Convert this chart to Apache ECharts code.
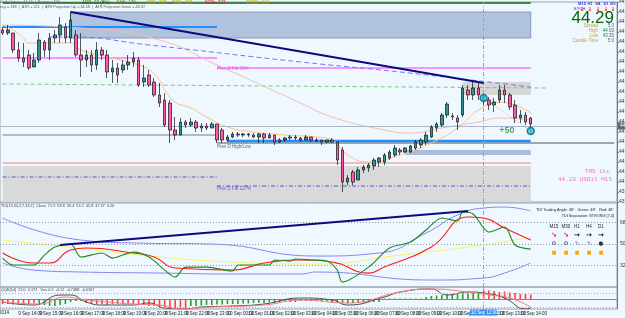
<!DOCTYPE html>
<html><head><meta charset="utf-8">
<script src="https://cdn.jsdelivr.net/npm/echarts@6/dist/echarts.min.js"></script>
<style>html,body{margin:0;padding:0;background:#f0f8ff}#c{width:625px;height:318px}</style>
</head><body><div id="c"></div><script>
// ---------- DATA ----------
// M15 candles: [open, close, low, high]
const candles = [
[44.76,44.745,44.735,44.775],[44.745,44.76,44.735,44.785],[44.745,44.66,44.645,44.745],[44.66,44.62,44.60,44.70],
[44.62,44.60,44.575,44.695],[44.635,44.57,44.56,44.66],[44.575,44.61,44.575,44.645],[44.61,44.71,44.595,44.745],
[44.70,44.66,44.625,44.71],[44.66,44.72,44.61,44.745],[44.72,44.735,44.695,44.76],[44.735,44.785,44.695,44.825],
[44.775,44.72,44.695,44.795],[44.72,44.81,44.695,44.85],[44.735,44.635,44.625,44.76],[44.635,44.61,44.525,44.745],
[44.61,44.635,44.575,44.66],[44.635,44.585,44.55,44.66],[44.585,44.66,44.56,44.70],[44.66,44.635,44.61,44.675],
[44.635,44.55,44.52,44.66],[44.55,44.57,44.495,44.61],[44.57,44.535,44.495,44.595],[44.56,44.585,44.545,44.61],
[44.585,44.60,44.56,44.635],[44.60,44.62,44.575,44.65],[44.61,44.485,44.475,44.625],[44.50,44.52,44.475,44.585],
[44.535,44.485,44.475,44.56],[44.50,44.435,44.425,44.52],[44.435,44.395,44.375,44.495],[44.41,44.285,44.275,44.445],
[44.395,44.26,44.195,44.41],[44.26,44.235,44.21,44.325],[44.235,44.30,44.235,44.32],[44.30,44.285,44.27,44.31],
[44.285,44.30,44.275,44.32],[44.30,44.27,44.25,44.31],[44.27,44.28,44.25,44.295],[44.28,44.27,44.26,44.295],
[44.27,44.29,44.27,44.30],[44.29,44.21,44.195,44.29],[44.26,44.21,44.195,44.27],[44.21,44.225,44.20,44.235],
[44.225,44.24,44.22,44.25],[44.24,44.235,44.225,44.25],[44.235,44.24,44.225,44.245],[44.24,44.235,44.225,44.245],
[44.235,44.225,44.22,44.245],[44.225,44.24,44.195,44.245],[44.24,44.22,44.195,44.245],[44.22,44.235,44.22,44.245],
[44.235,44.20,44.185,44.235],[44.20,44.21,44.195,44.22],[44.21,44.22,44.20,44.225],[44.22,44.225,44.21,44.235],
[44.225,44.22,44.21,44.235],[44.22,44.21,44.20,44.225],[44.21,44.225,44.21,44.235],[44.225,44.21,44.20,44.225],
[44.21,44.205,44.20,44.22],[44.21,44.20,44.185,44.21],[44.20,44.21,44.195,44.21],[44.21,44.20,44.195,44.22],
[44.20,44.11,44.085,44.20],[44.16,44.00,43.95,44.175],[44.00,44.02,43.985,44.035],[44.05,44.00,43.985,44.06],
[44.01,44.06,44.01,44.075],[44.06,44.075,44.045,44.085],[44.07,44.085,44.05,44.095],[44.08,44.11,44.06,44.12],
[44.10,44.12,44.075,44.125],[44.10,44.135,44.085,44.145],[44.12,44.15,44.11,44.16],[44.135,44.17,44.125,44.185],
[44.16,44.15,44.135,44.17],[44.15,44.17,44.145,44.175],[44.15,44.18,44.145,44.185],[44.17,44.20,44.16,44.21],
[44.185,44.21,44.17,44.22],[44.20,44.235,44.185,44.25],[44.225,44.275,44.22,44.285],[44.27,44.29,44.25,44.30],
[44.285,44.335,44.275,44.345],[44.335,44.39,44.32,44.40],[44.33,44.325,44.31,44.345],[44.32,44.30,44.26,44.335],
[44.335,44.47,44.325,44.485],[44.46,44.435,44.41,44.485],[44.435,44.47,44.41,44.50],[44.47,44.435,44.41,44.495],
[44.43,44.41,44.385,44.435],[44.41,44.385,44.36,44.425],[44.385,44.40,44.35,44.42],[44.41,44.46,44.395,44.485],
[44.46,44.435,44.395,44.485],[44.435,44.375,44.36,44.445],[44.385,44.32,44.295,44.41],[44.32,44.335,44.295,44.36],
[44.335,44.30,44.285,44.35],[44.32,44.29,44.245,44.325]
];
const emptyBars = 16;                 // right shift of the chart
const startMinutes = 13*60+15;        // first bar: 9 Sep 13:15, M15 bars
const lastLabelIndex = 99;            // 10 Sep 14:00

// main pane overlays [barIndex, price]
const orangeMA = [[0,44.785],[2,44.76],[4,44.72],[5,44.695],[9,44.695],[13,44.695],[15,44.66],[21,44.62],[24,44.60],[26,44.585],[28,44.56],[30,44.51],[31,44.46],[33,44.40],[36,44.37],[39,44.325],[43,44.275],[48,44.25],[54,44.235],[60,44.225],[63,44.21],[66,44.135],[70,44.10],[76,44.135],[82,44.195],[87,44.27],[91,44.36],[95,44.40],[101,44.345]];
const pinkMA = [[0,44.785],[15,44.77],[30,44.71],[41,44.585],[57,44.395],[63,44.325],[73,44.26],[78,44.245],[84,44.27],[91,44.30],[95,44.32],[101,44.31]];
const dashedBlueMA = [[9,44.725],[13,44.725],[28,44.685],[57,44.60],[76,44.55],[101,44.475]];
const mainTrend = [[13,44.85],[92,44.495]];
const dottedTarget = [[92,44.42],[101,44.255]];
const cyanMarks = [[92,44.42],[101,44.255]];
const levelTopGreen = [[0,44.895],[101,44.895]];
const levelBlueUpper = [[0,44.775],[41,44.775]];
const levelMagentaA = [[0,44.62],[41,44.62]];
const levelMagentaB = [[41,44.57],[101,44.57]];
const levelGreenDash = [[0,44.49],[104,44.47]];
const levelGreyA = [[0,44.235],[41,44.235]];
const levelGreyB = [[41,44.195],[117,44.195]];
const levelBlueLower = [[43,44.205],[101,44.205]];
const levelCoral = [[0,44.095],[101,44.095]];
const levelFibA = [[0,44.025],[41,44.025]];
const levelFibB = [[41,43.98],[101,43.98]];
const bidPrice = 44.28;
const zoneBlueTop = [[13,44.85],[101,44.72]];
const zoneBlueLow = [[77,44.16],[101,44.135]];
const zoneGreyLow = [[0,44.08],[101,43.90]];
const zoneGreyTop = [[88,44.50],[101,44.435]];
const levelTexts = [[41,44.565,'Prev D Fib 50%'],[41,44.178,'Prev D High/Low'],[41,43.966,'Prev D Fib 127%'],[95,44.255,'+50']];
const crossIndex = 92;

// TDI pane [barIndex, value]
const tdiGreen = [[0,38.3],[2,32.5],[6,32.5],[8,40.8],[10,47.5],[13,50],[15,39.2],[19,42.5],[21,38.3],[25,43.3],[28,39.2],[31,28.3],[33,22.5],[35,30.8],[39,30.8],[44,27.5],[45,32.5],[51,32.5],[52,36.7],[55,35.8],[56,37.5],[59,36.7],[62,35.8],[64,28.3],[65,18.3],[70,30.8],[74,46.7],[78,51.7],[81,61.7],[84,71.7],[87,69.2],[88,76.7],[90,75],[92,63.3],[93,60],[96,64.2],[98,49.2],[101,45.8]];
const tdiRed = [[0,42.5],[6,34.2],[9,34.2],[13,45],[16,46.7],[25,42.5],[29,39.2],[33,30],[44,28.3],[50,34.2],[57,36.7],[63,35],[70,25.8],[73,30.8],[82,47.5],[89,72.5],[92,71.7],[96,63.3],[101,53.3]];
const tdiYellow = [[0,53.3],[14,46.7],[30,39.2],[44,35],[60,33.3],[76,40.8],[92,49.2],[101,55.8]];
const tdiUpper = [[0,71.7],[15,53.3],[26,50.8],[40,50],[60,40],[72,42.5],[81,59.2],[87,74.2],[92,80],[96,80.8],[101,77.5]];
const tdiLower = [[0,34.2],[6,28.3],[15,26.7],[31,25.8],[44,25],[57,25],[60,26.7],[82,20],[92,21.7],[96,25.8],[101,34.2]];
const tdiTrend = [[11,49.2],[89,77.5]];
const tdiLevels = [32,50,68];

// lower histogram pane
const histValues = [-0.5,-0.5,-0.55,-0.55,-0.5,-0.5,-0.45,-0.6,-0.6,-0.7,-0.7,-0.6,-0.5,-0.3,-0.2,-0.2,
 -0.4,-0.5,-0.5,-0.5,-0.6,-0.5,-0.5,-0.5,-0.4,-0.5,-0.6,-0.6,-0.7,-0.7,-0.8,-0.8,-0.9,-1.0,-1.1,-1.2,
 -0.7,-0.7,-0.65,-0.6,-0.6,-0.55,-0.55,-0.5,-0.5,-0.5,-0.45,-0.45,-0.4,-0.4,-0.4,-0.35,-0.35,-0.3,-0.3,-0.3,-0.3,
 -0.2,-0.2,-0.2,-0.2,-0.2,-0.2,-0.4,-0.4,-0.45,-0.45,-0.4,-0.4,-0.35,-0.3,-0.3,-0.3,
 0.05,0.05,0.05,0.05,0.05,0.05,0.05,0.05,0.2,0.3,0.35,0.4,0.45,0.5,0.55,0.6,0.6,0.6,0.6,
 0.9,0.85,0.8,0.7,0.75,0.65,0.6,0.5,0.5,0.45];
const histRising = [0,0,0,0,0,0,0,1,1,1,1,1,1,1,1,1,0,0,0,0,0,0,0,0,0,0,0,0,0,0,0,0,0,0,0,0,
 1,1,1,1,1,1,1,1,1,1,1,1,1,1,1,1,1,1,1,1,1,1,1,1,1,1,1,1,1,1,1,1,1,1,1,1,1,
 1,1,1,1,1,1,1,1,1,1,1,1,1,1,1,1,1,1,1,0,0,0,0,0,0,0,0,0,0];
const histGrey = [[0,-0.3],[6,-0.6],[11,0.4],[13,0.4],[16,-0.3],[19,-0.6],[25,-0.6],[28,-0.4],[31,-0.9],[35,-1.0],[38,-0.8],[44,-0.7],[50,-0.5],[57,0.1],[63,-0.1],[66,-0.6],[73,0.2],[76,0.7],[82,1.0],[85,0.4],[89,0.7],[92,0.6],[96,0.1],[100,-1.0],[101,-0.9]];
const histPink = [[0,-0.3],[7,-0.5],[12,0.2],[16,-0.1],[25,-0.5],[30,-0.6],[34,-1.0],[40,-0.8],[50,-0.6],[57,-0.1],[66,-0.4],[76,0.7],[82,1.0],[89,0.7],[93,0.4],[97,0.1],[101,-0.8]];
const histLevels = [0.6,-0.8];

// ---------- BUILD ----------
const months = 'Sep';
const categories = [];
for (let i = 0; i < candles.length + emptyBars; i++) {
  const m = startMinutes + 15*i, day = m >= 1440 ? 10 : 9, mm = m % 1440;
  categories.push(day + ' ' + months + ' ' + String(Math.floor(mm/60)).padStart(2,'0') + ':' + String(mm%60).padStart(2,'0'));
}
const F = 'Liberation Sans';
function ln(data, color, width, type, g, z, extra) {
  return Object.assign({type:'line', xAxisIndex:g, yAxisIndex:g, data:data, symbol:'none', silent:true,
    z: z||4, lineStyle:{color:color, width:width, type:type||'solid'}}, extra||{});
}
function area(a, color, border) {
  return [{xAxis:a[0][0], yAxis:a[0][1], itemStyle:{color:color, borderColor:border||'transparent', borderWidth:border?1:0}}, {xAxis:a[1][0], yAxis:a[1][1]}];
}
const cross = (g) => ({type:'line', xAxisIndex:g, yAxisIndex:g, data:[], silent:true,
  markLine:{symbol:'none', silent:true, label:{show:false}, lineStyle:{color:'#7aa7d8', type:[4,2,1,2], width:1}, data:[{xAxis:crossIndex}]}});

const series = [
  {type:'line', xAxisIndex:0, yAxisIndex:0, data:[], silent:true, z:1,
   markArea:{silent:true, data:[area(zoneBlueTop,'#b0c2dc','#8799bb'), area(zoneBlueLow,'#a9bddb'), area(zoneGreyLow,'#d9d9d9'), area(zoneGreyTop,'#d6d6d6')]},
   markLine:{symbol:'none', silent:true, lineStyle:{color:'#a8b8c8', width:1, type:'solid'},
     label:{position:'end', formatter:bidPrice.toFixed(2), fontSize:5, color:'#fff', backgroundColor:'#666', padding:[1,2], distance:1},
     data:[{yAxis:bidPrice}]}},
  ln(levelTopGreen,'#0a6a0a',1.5,'solid',0,2),
  ln(levelBlueUpper,'#1e90ff',2,'solid',0,2),
  ln(levelMagentaA,'#ff33ff',1.2,'solid',0,2),
  ln(levelMagentaB,'#ff33ff',1.2,'solid',0,2),
  ln(levelGreenDash,'#77cc77',1,[4,3],0,2),
  ln(levelGreyA,'#7a7a7a',1,'solid',0,2),
  ln(levelGreyB,'#555',1,'solid',0,2),
  ln(levelBlueLower,'#1e90ff',2.5,'solid',0,2),
  ln(levelCoral,'#f08080',1,'solid',0,2),
  ln(levelFibA,'#5555dd',1,[4,2,1,2],0,2),
  ln(levelFibB,'#5555dd',1,[4,2,1,2],0,2),
  ln(pinkMA,'#f2bcbc',1,'solid',0,2,{smooth:true}),
  ln(dashedBlueMA,'#7676f0',1,[5,3],0,2,{smooth:true}),
  ln(orangeMA,'#ffbf80',1,'solid',0,2,{smooth:true}),
  {type:'candlestick', xAxisIndex:0, yAxisIndex:0, data:candles, barWidth:3, silent:true, z:5,
   itemStyle:{color:'#2f9494', color0:'#ff5aa8', borderColor:'#111', borderColor0:'#111', borderWidth:0.7}},
  ln(mainTrend,'#0a0a80',2,'solid',0,6),
  ln(dottedTarget,'#e07f95',1,[1,2],0,6),
  {type:'scatter', xAxisIndex:0, yAxisIndex:0, data:cyanMarks, symbolSize:7, silent:true, z:7,
   itemStyle:{color:'#25c6d8', borderColor:'#0b5f8a', borderWidth:1.5}},
  {type:'scatter', xAxisIndex:0, yAxisIndex:0, symbolSize:0, silent:true, z:7,
   data:levelTexts.map((t,k)=>({value:[t[0],t[1]], label:{show:true, position:'right', distance:0, formatter:t[2],
     fontSize: k===3?9:4.5, fontWeight: k===3?'bold':'normal', fontFamily:F,
     color:['#e040e0','#333','#3a3ad0','#2e8b3e'][k]}}))},
  cross(0),
  // TDI
  {type:'line', xAxisIndex:1, yAxisIndex:1, data:[], silent:true,
   markLine:{symbol:'none', silent:true, lineStyle:{color:'#999', type:[1,2], width:1},
     label:{position:'end', fontSize:5, color:'#333', distance:3, formatter:p=>String(p.value)},
     data:tdiLevels.map(v=>({yAxis:v}))}},
  ln(tdiUpper,'#8585f5',1,'solid',1,3,{smooth:true}),
  ln(tdiLower,'#8585f5',1,'solid',1,3,{smooth:true}),
  ln(tdiYellow,'#f4f46a',1,'solid',1,3,{smooth:true}),
  ln(tdiRed,'#ff1a1a',1.1,'solid',1,4,{smooth:true}),
  ln(tdiGreen,'#1f8a1f',1.1,'solid',1,5,{smooth:0.3}),
  ln(tdiTrend,'#0a0a80',2,'solid',1,6),
  cross(1),
  // histogram
  {type:'line', xAxisIndex:2, yAxisIndex:2, data:[], silent:true,
   markLine:{symbol:'none', silent:true, label:{show:false}, lineStyle:{color:'#aaa', type:[1,2], width:1},
     data:histLevels.map(v=>({yAxis:v}))}},
  {type:'bar', xAxisIndex:2, yAxisIndex:2, barWidth:1.6, silent:true, z:3,
   data:histValues.map((v,i)=>({value:v, itemStyle:{color: histRising[i] ? '#2f9a2f' : '#ff4040'}}))},
  ln(histGrey,'#4d4d4d',1,'solid',2,4,{smooth:true}),
  ln(histPink,'#ff7a7a',1,'solid',2,4,{smooth:true}),
  cross(2)
];

const xAxes = [0,1,2].map(g => ({type:'category', gridIndex:g, data:categories, boundaryGap:true,
  axisLine:{show:g===2, lineStyle:{color:'#888'}}, axisTick:{show:false}, splitLine:{show:false},
  axisLabel: g===2 ? {show:true, fontSize:4.5, fontFamily:F, color:'#222', margin:2, align:'left', hideOverlap:false,
     interval:0, formatter:(v,i)=> (i%4===3 && i<=lastLabelIndex) ? v : ''} : {show:false}}));

function txt(x, y, s, size, color, align, weight, font) {
  return {type:'text', x:x, y:y, silent:true, z:100,
    style:{text:s, fontSize:size, fontFamily:font||F, fill:color, align:align||'left', verticalAlign:'middle', fontWeight:weight||'normal'}};
}
const tf = ['M15','M30','H1','H4','D1'], tfx = [554,566,577,589,601];
const graphics = [
  txt(0,2,'Daily Open = 44.13  |  Range = 158',3.8,'#666'),
  txt(0,6.5,'ncy = 138  |  ATR = 221  |  ATR Projection Up = 44.58  |  ATR Projection Down = 43.37',3.8,'#555'),
  txt(82,2.5,'ADR: 22 (8%)',4.5,'#1a6a1a'), txt(116,2.5,'1WK: 129',4.5,'#806000'),
  txt(146,2.5,'10Dk: 238',4.5,'#b8a000'), txt(172,2.5,'50Dk: 208',4.5,'#b8a000'),
  txt(205,2.5,'90Dk: 323',4.5,'#d02020'), txt(246,2.5,'200Dk: 244',4.5,'#b8a000'),
  txt(574,9,'EYOH',4,'#3030d0'),
  ...['M15','H1','H4','D1','W1'].map((s,k)=>txt([582,590,598,606,613][k],4,s,4,'#3030d0','center','bold')),
  ...[582,590,598,606,613].map(x=>txt(x,9,'↓',6,'#ff2020','center','bold','DejaVu Sans')),
  txt(614,18,'44.29',17,'#0b640b','right'),
  txt(598,25.5,'Spread',4.5,'#c0a040','right'), txt(614,25.5,'5.0',4.5,'#6a4aa8','right'),
  txt(598,30.5,'High',4.5,'#c0a040','right'), txt(614,30.5,'44.93',4.5,'#2a7a2a','right'),
  txt(598,35.5,'Low',4.5,'#c0a040','right'), txt(614,35.5,'43.35',4.5,'#2a7a2a','right'),
  txt(598,40.5,'Candle Time',4.5,'#c0a040','right'), txt(614,40.5,'5:0',4.5,'#6a4aa8','right'),
  txt(610,171,'TMS Lkc',6,'#ff70c8','right','normal','Liberation Mono'),
  txt(612,179.5,'44.29 USOil M15',6,'#ff70c8','right','normal','Liberation Mono'),
  txt(1,206,'TDI(13,34,2,7,34,7)  Close  71.9  58.8  56.4  53.2  45.8  47.97  0.00',3.8,'#444'),
  txt(614,210,'TDI Trading Angle: 48°   Green: 48°   Red: 48°',3.8,'#222','right'),
  txt(614,216,'TDI Separation: STRONG [7.4]',3.8,'#222','right'),
  ...tf.map((s,k)=>txt(tfx[k],227,s,4.5,'#222','center')),
  ...tfx.map((x,k)=>txt(x,235, k<2?'↘':'→', 7, k<2?'#ff2020':'#111','center','bold','DejaVu Sans')),
  ...tfx.map((x,k)=>txt(x,244, k<2?'⚙':(k<4?'✎':'●'), 5.5, k<2?'#444':(k<4?'#777':'#333'),'center','normal','DejaVu Sans')),
  ...tfx.map(x=>txt(x,253,'■',5,'#ffa500','center','normal','DejaVu Sans')),
  txt(1,290,'QQE(14)  22.0  0.172   Dev 0.5  -0.12  -0.7488  -0.0167',3.8,'#444'),
  txt(9,312.5,'9 Sep 2014',4.5,'#222','right'),
  {type:'rect', shape:{x:470,y:309.5,width:27,height:6}, style:{fill:'#3a8ee6'}, z:100, silent:true},
  txt(471,312.5,'10 Sep 12:00',4.5,'#fff')
];

const gridBase = {left:0, right:8, show:true, borderColor:'#9aa4ae', borderWidth:1, containLabel:false, outerBoundsMode:'none'};
const option = {
  backgroundColor:'#f0f8ff', animation:false, textStyle:{fontFamily:F},
  grid:[
    Object.assign({top:2, height:200}, gridBase),
    Object.assign({top:203, height:84}, gridBase),
    Object.assign({top:287, height:22}, gridBase)
  ],
  xAxis:xAxes,
  yAxis:[
    {type:'value', gridIndex:0, position:'right', min:43.90, max:44.90, interval:0.05,
     axisLine:{show:true,lineStyle:{color:'#777'}}, axisTick:{show:true,length:2,lineStyle:{color:'#777'}},
     axisLabel:{fontSize:5, color:'#333', margin:2, formatter:v=>v.toFixed(2)}, splitLine:{show:false}},
    {type:'value', gridIndex:1, position:'right', min:14.2, max:84.2,
     axisLine:{show:true,lineStyle:{color:'#777'}}, axisTick:{show:false}, axisLabel:{show:false}, splitLine:{show:false}},
    {type:'value', gridIndex:2, position:'right', min:-1.0, max:1.2,
     axisLine:{show:true,lineStyle:{color:'#777'}}, axisTick:{show:false}, axisLabel:{show:false}, splitLine:{show:false}}
  ],
  series:series,
  graphic:graphics
};
const chart = echarts.init(document.getElementById('c'));
chart.setOption(option);
</script></body></html>
